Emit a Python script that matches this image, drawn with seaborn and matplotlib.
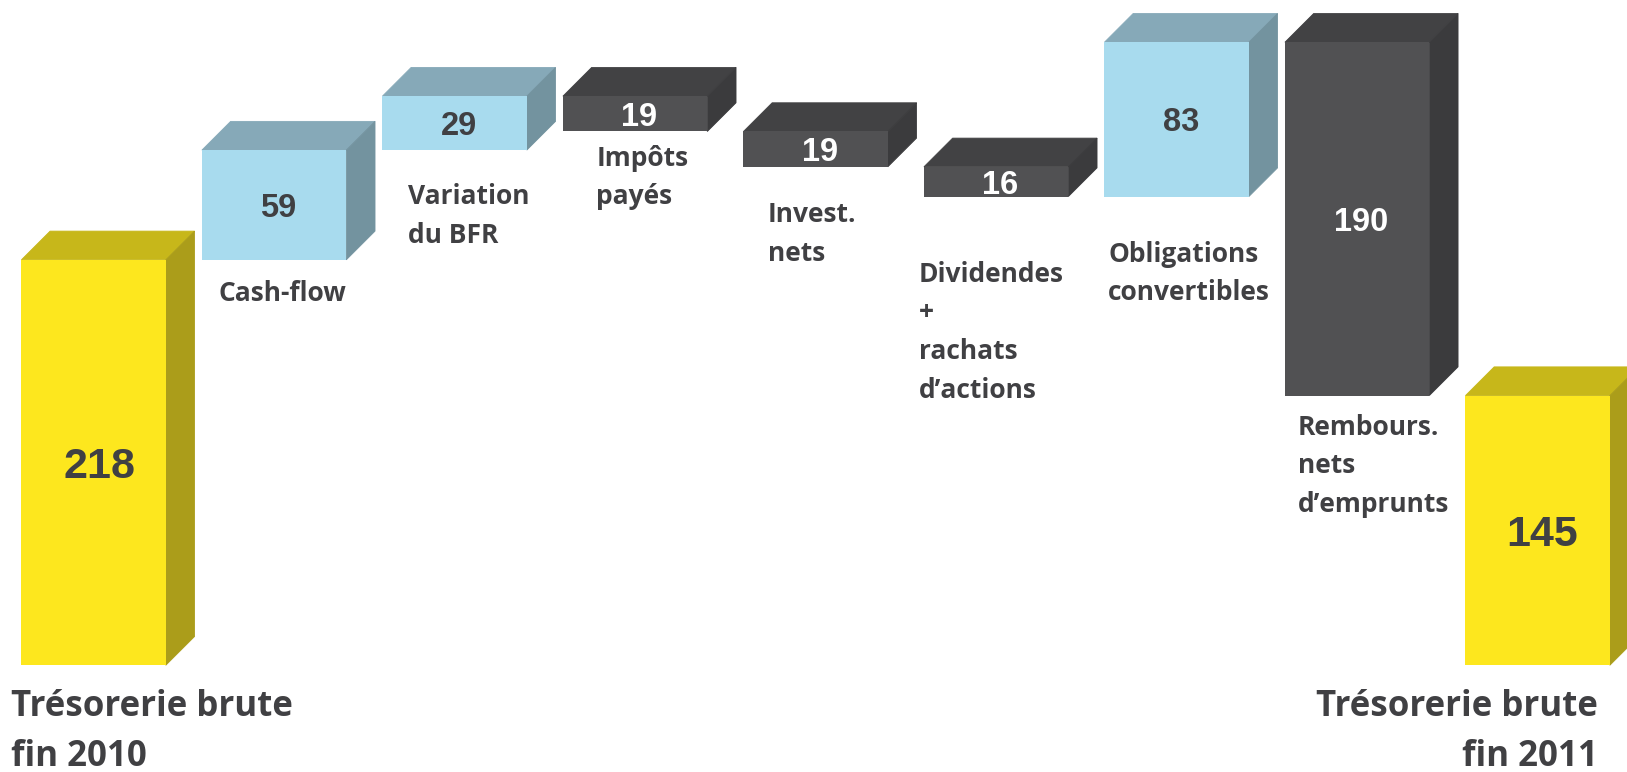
import pandas as pd
import numpy as np
import seaborn as sns
import matplotlib.pyplot as plt
from matplotlib.patches import Polygon

# bridge between the two cash positions
start_value = 218
end_value = 145
step_names = ['Cash-flow', 'Variation du BFR', 'Impôts payés', 'Invest. nets',
              'Dividendes + rachats d’actions', 'Obligations convertibles',
              'Rembours. nets d’emprunts']
step_values = [59, 29, -19, -19, -16, 83, -190]

label_lines = [['Cash-flow'], ['Variation', 'du BFR'], ['Impôts', 'payés'], ['Invest.', 'nets'],
               ['Dividendes', '+', 'rachats', 'd’actions'], ['Obligations', 'convertibles'],
               ['Rembours.', 'nets', 'd’emprunts']]
# left edge and first baseline, in pixels of the picture
label_pos = [(219, 301), (407.5, 204.5), (596.5, 165.5), (767.5, 222.5),
             (919, 282), (1108, 261.5), (1297.5, 435)]

W, H = 1627, 772
DARK_TEXT = '#404043'
faces = {'total': ('#FDE71E', '#C7B71A', '#AB9D1A'),
         'up': ('#A8DBEE', '#86A9B8', '#73939F'),
         'down': ('#515153', '#424244', '#3B3B3D')}

# build the table, each step sits on the running total
running = start_value + np.cumsum(step_values)
tops = [start_value] + [max(a, b) for a, b in zip([start_value] + list(running[:-1]), running)] + [end_value]
heights = [start_value] + [abs(v) for v in step_values] + [end_value]
bottoms = np.array(tops) - np.array(heights)
kinds = ['total'] + ['up' if v > 0 else 'down' for v in step_values] + ['total']
df = pd.DataFrame({'name': ['Trésorerie brute fin 2010'] + step_names + ['Trésorerie brute fin 2011'],
                   'height': heights})

sns.set_theme(style='white')
plt.rcParams['font.family'] = ['Open Sans', 'DejaVu Sans']

fig = plt.figure(figsize=(W / 100, H / 100), dpi=100)
ax = fig.add_axes([0, 0, 1, 1])
sns.barplot(data=df, x='name', y='height', bottom=bottoms, width=0.8, color='#515153', saturation=1,
            linewidth=0, errorbar=None, ax=ax)

ax.set_xlim(-0.5186, 8.495)
ax.set_ylim(-57.4, 357.7)
ax.axis('off')

# fake 3d, top and side faces follow each bar
dx = 28.7 / 180.5
dy = 28.7 / 1.86
for bar, kind, h in zip(list(ax.patches), kinds, heights):
    x0, y0 = bar.get_x(), bar.get_y()
    x1, y1 = x0 + bar.get_width(), y0 + bar.get_height()
    front, top, side = faces[kind]
    bar.set_facecolor(front)
    bar.set_zorder(3)
    # thin edge in the same colour closes the seam with the front face
    ax.add_patch(Polygon([(x0, y1), (x1, y1), (x1 + dx, y1 + dy), (x0 + dx, y1 + dy)],
                         facecolor=top, edgecolor=top, lw=0.6, zorder=1))
    ax.add_patch(Polygon([(x1, y0), (x1 + dx, y0 + dy), (x1 + dx, y1 + dy), (x1, y1)],
                         facecolor=side, edgecolor=side, lw=0.6, zorder=2))

    # value in the middle of the front face
    big = kind == 'total'
    ax.annotate(str(h), ((x0 + x1) / 2, (y0 + y1) / 2), xytext=(4.5 if h == start_value else 3, 0),
                textcoords='offset points', ha='center', va='center_baseline',
                fontsize=31 if big else 23.5, fontweight='bold', family='Liberation Sans',
                color='white' if kind == 'down' else DARK_TEXT, zorder=4)


def put_line(x, y, txt, size, **kw):
    fig.text(x / W, 1 - y / H, txt, fontsize=size, fontweight='bold', color=DARK_TEXT, va='baseline', **kw)


for lines, (lx, ly) in zip(label_lines, label_pos):
    for i, line in enumerate(lines):
        put_line(lx, ly + i * 38.5, line, 19)

put_line(11, 716, 'Trésorerie brute', 25.1)
put_line(11, 766, 'fin 2010', 25.1)
put_line(1597.5, 716, 'Trésorerie brute', 25.1, ha='right')
put_line(1597.5, 766, 'fin 2011', 25.1, ha='right')

fig.savefig('out.png', dpi=100)
plt.close()
